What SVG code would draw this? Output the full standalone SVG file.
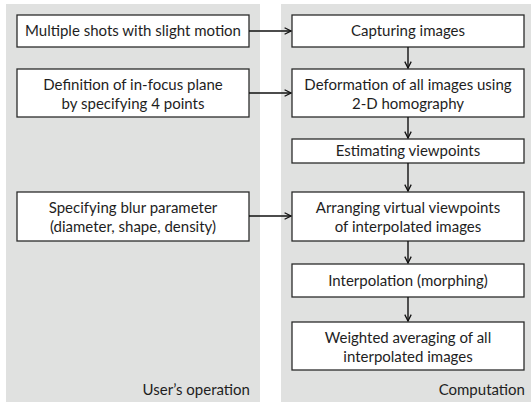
<svg xmlns="http://www.w3.org/2000/svg" width="531" height="402" viewBox="0 0 531 402">
  <style>
    .panel { fill: #e0e1e0; }
    .box { fill: #ffffff; stroke: #2b2b2b; stroke-width: 1.3; }
    .t { font-family: Lato, "Liberation Sans", sans-serif; font-size: 15px; fill: #1e1e1e; text-anchor: middle; }
    .cap { font-family: Lato, "Liberation Sans", sans-serif; font-size: 15px; fill: #1e1e1e; text-anchor: end; }
    .conn { stroke: #111; stroke-width: 1.4; fill: none; marker-end: url(#arrow); }
  </style>
  <defs>
    <marker id="arrow" viewBox="0 0 10 10" refX="9" refY="5" markerWidth="8" markerHeight="8" markerUnits="userSpaceOnUse" orient="auto">
      <path d="M1,1 L9,5 L1,9" fill="none" stroke="#111" stroke-width="1.6"/>
    </marker>
  </defs>

  <!-- panels -->
  <rect class="panel" x="6" y="4" width="254" height="398"/>
  <rect class="panel" x="281" y="4" width="250" height="398"/>

  <!-- user side -->
  <g id="shots">
    <rect class="box" x="17" y="15" width="232" height="32"/>
    <text class="t" x="133" y="36">Multiple shots with slight motion</text>
  </g>
  <g id="focus-plane">
    <rect class="box" x="17" y="69" width="232" height="48"/>
    <text class="t" x="133" y="90">Definition of in-focus plane</text>
    <text class="t" x="133" y="109">by specifying 4 points</text>
  </g>
  <g id="blur-param">
    <rect class="box" x="17" y="192" width="232" height="49"/>
    <text class="t" x="133" y="213">Specifying blur parameter</text>
    <text class="t" x="133" y="232">(diameter, shape, density)</text>
  </g>

  <!-- computation side -->
  <g id="capture">
    <rect class="box" x="292" y="15" width="232" height="32"/>
    <text class="t" x="408" y="36">Capturing images</text>
  </g>
  <g id="deform">
    <rect class="box" x="292" y="69" width="232" height="48"/>
    <text class="t" x="408" y="90">Deformation of all images using</text>
    <text class="t" x="408" y="109">2-D homography</text>
  </g>
  <g id="estimate">
    <rect class="box" x="292" y="139" width="232" height="24"/>
    <text class="t" x="408" y="156">Estimating viewpoints</text>
  </g>
  <g id="arrange">
    <rect class="box" x="292" y="192" width="232" height="49"/>
    <text class="t" x="408" y="213">Arranging virtual viewpoints</text>
    <text class="t" x="408" y="232">of interpolated images</text>
  </g>
  <g id="interp">
    <rect class="box" x="292" y="264" width="232" height="33"/>
    <text class="t" x="408" y="286">Interpolation (morphing)</text>
  </g>
  <g id="average">
    <rect class="box" x="292" y="322" width="232" height="48"/>
    <text class="t" x="408" y="343">Weighted averaging of all</text>
    <text class="t" x="408" y="362">interpolated images</text>
  </g>

  <!-- connectors -->
  <g id="connectors">
    <line class="conn" x1="249" y1="31" x2="291" y2="31"/>
    <line class="conn" x1="249" y1="93" x2="291" y2="93"/>
    <line class="conn" x1="249" y1="216" x2="291" y2="216"/>
    <line class="conn" x1="408" y1="47" x2="408" y2="68"/>
    <line class="conn" x1="408" y1="117" x2="408" y2="138"/>
    <line class="conn" x1="408" y1="163" x2="408" y2="191"/>
    <line class="conn" x1="408" y1="241" x2="408" y2="263"/>
    <line class="conn" x1="408" y1="297" x2="408" y2="321"/>
  </g>

  <!-- panel captions -->
  <text class="cap" x="250" y="395">User’s operation</text>
  <text class="cap" x="525" y="395">Computation</text>
</svg>
